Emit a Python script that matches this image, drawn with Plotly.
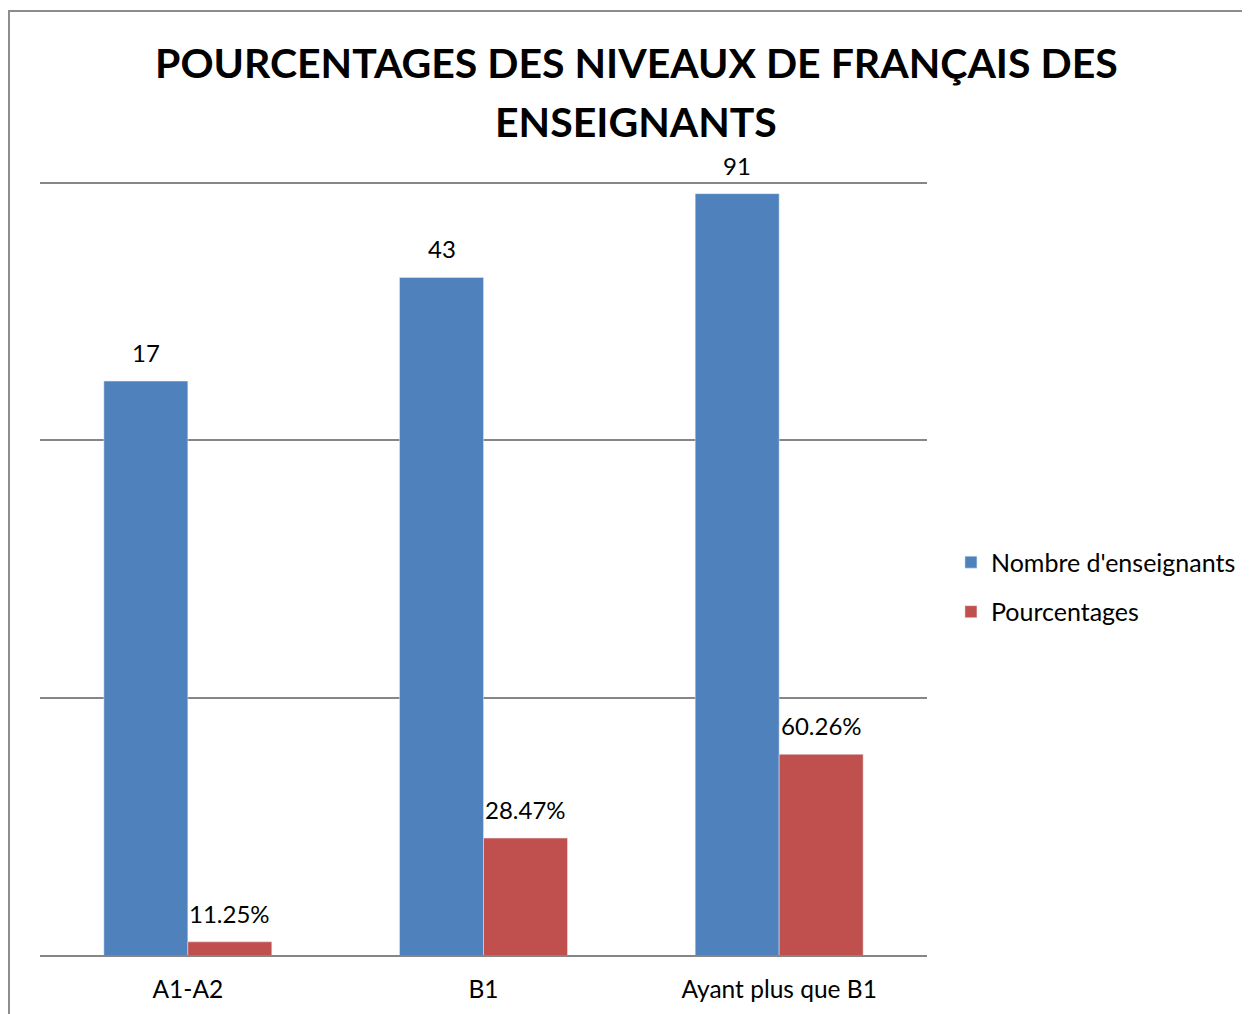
import math
import plotly.graph_objects as go

# Data
categories = ["A1-A2", "B1", "Ayant plus que B1"]
nombre_enseignants = [17, 43, 91]
pourcentages = [11.25, 28.47, 60.26]  # in %
grid_vals = [0.1, 1, 10, 100]
title_lines = ["POURCENTAGES DES NIVEAUX DE FRANÇAIS DES", "ENSEIGNANTS"]

BLUE = "#4F81BD"
RED = "#C0504D"
GRID = "#868686"
FONT = "Lato"

pct_frac = [p / 100 for p in pourcentages]

fig = go.Figure()

fig.add_trace(go.Bar(
    x=categories, y=nombre_enseignants,
    name="Nombre d'enseignants",
    marker=dict(color=BLUE),
    legendgroup="a",
))
fig.add_trace(go.Bar(
    x=categories, y=pct_frac,
    name="Pourcentages",
    marker=dict(color=RED),
    legendgroup="b",
))

# data labels (log axis -> annotation y in log10 units)
for cat, v in zip(categories, nombre_enseignants):
    fig.add_annotation(
        x=cat, y=math.log10(v), yref="y", xref="x", text=str(v),
        showarrow=False, yanchor="bottom", xshift=-42, yshift=12,
        font=dict(size=24, color="#000000", family=FONT),
    )
for cat, v, p in zip(categories, pct_frac, pourcentages):
    fig.add_annotation(
        x=cat, y=math.log10(v), yref="y", xref="x", text=f"{p:.2f}%",
        showarrow=False, yanchor="bottom", xshift=42, yshift=12,
        font=dict(size=24, color="#000000", family=FONT),
    )

# title, two lines
for line, ty in zip(title_lines, [1.151, 1.076]):
    fig.add_annotation(
        text=f"<b>{line}</b>",
        xref="paper", yref="paper", x=0.672, y=ty,
        xanchor="center", yanchor="middle", showarrow=False,
        font=dict(size=41, family=FONT, color="#000000"),
    )

# outer border
fig.add_shape(
    type="rect", xref="paper", yref="paper",
    x0=-0.035, x1=1.6, y0=-0.3, y1=1.218,
    line=dict(color="#8C8C8C", width=2), fillcolor="rgba(0,0,0,0)",
    layer="below",
)

fig.update_layout(
    width=1250, height=1014,
    paper_bgcolor="white", plot_bgcolor="white",
    margin=dict(l=32, r=331, t=172, b=67),
    barmode="group", bargap=0.432, bargroupgap=0,
    font=dict(family=FONT, size=24, color="#000000"),
    legend=dict(
        x=1.027, xanchor="left", y=0.475, yanchor="middle",
        font=dict(size=25, family=FONT),
        traceorder="grouped", tracegroupgap=14,
        bgcolor="rgba(0,0,0,0)",
    ),
    showlegend=True,
)

fig.update_xaxes(
    showline=True, linecolor=GRID, linewidth=2,
    showgrid=False, ticks="", tickfont=dict(size=24.5),
    ticklabelstandoff=12,
)
fig.update_yaxes(
    type="log", range=[-1, 2.012], tickmode="array", tickvals=grid_vals,
    showgrid=True, gridcolor=GRID, gridwidth=1.5,
    showticklabels=False, zeroline=False, showline=False,
)

fig.write_html("out.html")
